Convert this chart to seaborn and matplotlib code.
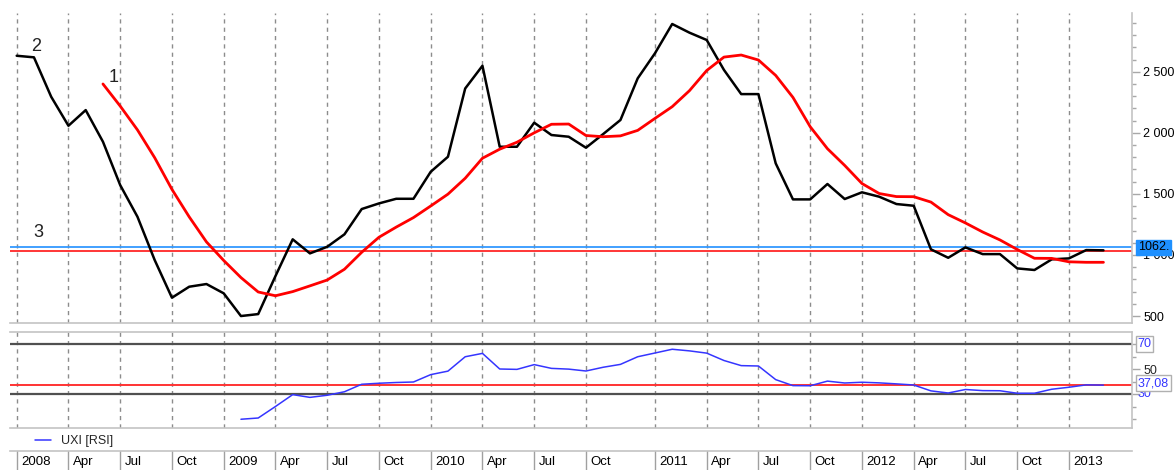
import pandas as pd
import matplotlib
matplotlib.use("Agg")
import matplotlib.pyplot as plt
import seaborn as sns
from matplotlib.ticker import FuncFormatter, FixedLocator, NullFormatter

# monthly bars (Q4 2010 has one extra bar), Jan 2008 .. Apr 2013
tick_pos = [0, 3, 6, 9, 12, 15, 18, 21, 24, 27, 30, 33, 37, 40, 43, 46, 49, 52, 55, 58, 61]
tick_lbl = ["2008", "Apr", "Jul", "Oct", "2009", "Apr", "Jul", "Oct", "2010", "Apr", "Jul", "Oct",
            "2011", "Apr", "Jul", "Oct", "2012", "Apr", "Jul", "Oct", "2013"]

close = [2631, 2618, 2295, 2058, 2186, 1927, 1572, 1313, 958, 650, 740, 762,
         686, 500, 516, 827, 1128, 1013, 1067, 1169, 1376, 1422, 1460, 1460,
         1681, 1804, 2363, 2549, 1886, 1886, 2083, 1982, 1968, 1878, 1990, 2105,
         2446, 2651, 2891, 2820, 2760, 2515, 2317, 2317, 1750, 1455, 1455, 1581,
         1458, 1513, 1477, 1417, 1403, 1046, 977, 1062, 1007, 1007, 890, 877,
         964, 972, 1040, 1038]

ma_start = 5
ma = [2400, 2219, 2024, 1796, 1537, 1312, 1107, 955, 815, 697, 666, 700, 747,
      795, 883, 1022, 1145, 1228, 1306, 1401, 1498, 1628, 1792, 1866, 1923,
      2000, 2070, 2072, 1978, 1968, 1975, 2020, 2118, 2214, 2345, 2510, 2620,
      2637, 2596, 2470, 2290, 2050, 1870, 1733, 1585, 1503, 1478, 1477, 1433,
      1330, 1262, 1188, 1123, 1045, 973, 972, 944, 940, 940]

rsi_start = 13
rsi = [9.8, 10.8, 20, 29.5, 27.3, 29, 31.8, 37.8, 38.6, 39.2, 39.6, 45.5, 48.3,
       59.8, 62.5, 50, 49.7, 53.5, 50.5, 49.9, 48.4, 51.4, 53.7, 59.8, 62.8,
       65.8, 64.5, 62.7, 56.8, 52.7, 52.4, 41.5, 36.7, 36.6, 40.3, 38.8, 39.4,
       38.9, 38.1, 37.2, 32.5, 30.8, 33.6, 32.7, 32.6, 30.6, 30.6, 33.8, 35.4,
       37.3, 37.1]

last_price = 1062
support = 1035
rsi_last = 37.08
rsi_levels = [30, 70]

df_close = pd.DataFrame({"bar": range(len(close)), "val": close})
df_ma = pd.DataFrame({"bar": range(ma_start, ma_start + len(ma)), "val": ma})
df_rsi = pd.DataFrame({"bar": range(rsi_start, rsi_start + len(rsi)), "val": rsi})

sns.set_theme(style="white")
plt.rcParams["font.family"] = ["Liberation Sans", "DejaVu Sans"]

W, H = 1175, 470
fig = plt.figure(figsize=(W / 100, H / 100), dpi=100)


def box(l, t, r, b):
    return [l / W, 1 - b / H, (r - l) / W, (b - t) / H]


ax = fig.add_axes(box(10, 13, 1132, 323))
ax_r = fig.add_axes(box(10, 332, 1132, 428))
ax_d = fig.add_axes(box(10, 451, 1132, 470))

xlim = ((10 - 16.7) / 17.25, (1132 - 16.7) / 17.25)
grid_kw = dict(color="#8c8c8c", lw=1, ls=(0, (3, 3)), zorder=0)
edge = "#c4c4c4"

# ---- price panel
for p in tick_pos:
    ax.axvline(p, **grid_kw)
ax.axhline(last_price, color="#3399ff", lw=1.3, zorder=1)
ax.axhline(support, color="#ff0000", lw=1.1, zorder=1)
sns.lineplot(data=df_close, x="bar", y="val", ax=ax, color="black", lw=1.8,
             estimator=None, sort=False, zorder=3)
sns.lineplot(data=df_ma, x="bar", y="val", ax=ax, color="#ff0000", lw=2.0,
             estimator=None, sort=False, zorder=4)
ax.set_xlim(*xlim)
ax.set_ylim(443, 2981)
ax.yaxis.tick_right()
ax.yaxis.set_major_locator(FixedLocator([500, 1000, 1500, 2000, 2500]))
ax.yaxis.set_minor_locator(FixedLocator(range(600, 3000, 100)))
ax.yaxis.set_major_formatter(FuncFormatter(lambda v, p: f"{int(v):,}".replace(",", " ")))
ax.tick_params(axis="y", which="major", right=True, length=6, width=1, color="#a8a8a8",
               labelsize=9, pad=2, labelcolor="black")
ax.tick_params(axis="y", which="minor", right=True, length=3, width=1, color="#a8a8a8")
ax.set_xticks([])
ax.set_xlabel("")
ax.set_ylabel("")
for s in ["top", "left"]:
    ax.spines[s].set_visible(False)
for s in ["right", "bottom"]:
    ax.spines[s].set_color(edge)
    ax.spines[s].set_linewidth(1.2)

ax.text(1.005, last_price, f"{last_price}.", transform=ax.get_yaxis_transform(),
        ha="left", va="center", fontsize=9, color="black", zorder=10, clip_on=False,
        bbox=dict(boxstyle="square,pad=0.15", fc="#1e90ff", ec="#1e90ff"))

lbl_kw = dict(fontsize=13, color="#222222", ha="center", va="center", zorder=6)
ax.text(1.12, 2710, "2", **lbl_kw)
ax.text(5.6, 2457, "1", **lbl_kw)
ax.text(1.25, 1188, "3", **lbl_kw)

# ---- RSI panel
for p in tick_pos:
    ax_r.axvline(p, **grid_kw)
for lv in rsi_levels:
    ax_r.axhline(lv, color="#505050", lw=1.6, zorder=1)
ax_r.axhline(rsi_last, color="#ff3333", lw=1.4, zorder=1)
sns.lineplot(data=df_rsi, x="bar", y="val", ax=ax_r, color="#3535ff", lw=1.1,
             estimator=None, sort=False, zorder=3)
ax_r.set_xlim(*xlim)
ax_r.set_ylim(2.8, 79.6)
ax_r.yaxis.tick_right()
ax_r.yaxis.set_major_locator(FixedLocator([30, 50, 70]))
ax_r.yaxis.set_minor_locator(FixedLocator([10, 20, 40, 60]))
ax_r.yaxis.set_major_formatter(FuncFormatter(lambda v, p: "50" if v == 50 else ""))
ax_r.yaxis.set_minor_formatter(NullFormatter())
ax_r.tick_params(axis="y", which="major", right=True, length=6, width=1, color="#a8a8a8",
                 labelsize=9, pad=2)
ax_r.tick_params(axis="y", which="minor", right=True, length=3, width=1, color="#a8a8a8")
ax_r.set_xticks([])
ax_r.set_xlabel("")
ax_r.set_ylabel("")
ax_r.spines["left"].set_visible(False)
for s in ["right", "bottom", "top"]:
    ax_r.spines[s].set_color(edge)
    ax_r.spines[s].set_linewidth(1.2)

val_box = dict(boxstyle="square,pad=0.15", fc="white", ec="#b0b0b0")
ytr = ax_r.get_yaxis_transform()
ax_r.text(1.005, 30, "30", transform=ytr, ha="left", va="center", fontsize=9,
          color="#3535ff", zorder=9, clip_on=False)
ax_r.text(1.005, 70, "70", transform=ytr, ha="left", va="center", fontsize=9,
          color="#3535ff", zorder=10, clip_on=False, bbox=val_box)
ax_r.text(1.005, rsi_last + 1.5, f"{rsi_last:.2f}".replace(".", ","), transform=ytr,
          ha="left", va="center", fontsize=9, color="#3535ff", zorder=10,
          clip_on=False, bbox=val_box)

rsi_handle = ax_r.lines[-1]
if ax_r.get_legend() is not None:
    ax_r.get_legend().remove()
fig.legend([rsi_handle], ["UXI [RSI]"], loc="center left",
           bbox_to_anchor=(35 / W, 1 - 441 / H), frameon=False, fontsize=9,
           handlelength=1.3, handletextpad=0.8, borderpad=0, borderaxespad=0)

# ---- date strip
ax_d.set_xlim(*xlim)
ax_d.set_ylim(0, 1)
for p, t in zip(tick_pos, tick_lbl):
    ax_d.axvline(p, color="#a0a0a0", lw=1)
    ax_d.text(p + 0.25, 0.42, t, ha="left", va="center", fontsize=9.5, color="black")
ax_d.set_xticks([])
ax_d.set_yticks([])
for s in ["left", "right", "bottom"]:
    ax_d.spines[s].set_visible(False)
ax_d.spines["top"].set_color(edge)
ax_d.spines["top"].set_linewidth(1.2)

fig.savefig("out.png", dpi=100)
